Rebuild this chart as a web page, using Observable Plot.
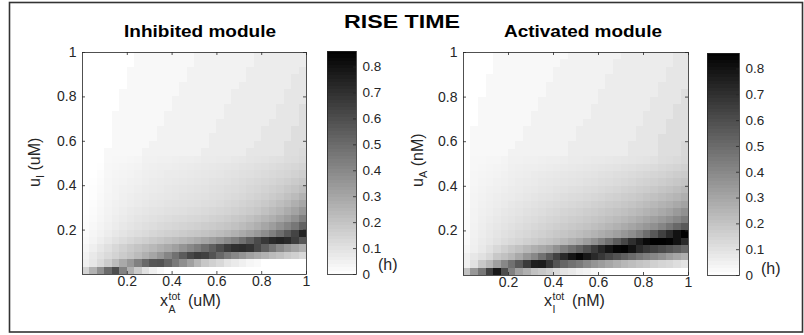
<!DOCTYPE html>
<html><head><meta charset="utf-8">
<script src="https://cdn.jsdelivr.net/npm/d3@7"></script>
<script src="https://cdn.jsdelivr.net/npm/@observablehq/plot@0.6"></script>
<style>
body{margin:0;background:#fff;}
#fig{position:relative;width:804px;height:335px;overflow:hidden;background:#fff;}
#fig svg{position:absolute;}
#fig svg.hm text{font-family:"Liberation Sans",Arial,Helvetica,sans-serif !important;font-size:14px !important;fill:#262626;}
#fig svg.cb text{font-family:"Liberation Sans",Arial,Helvetica,sans-serif !important;font-size:13.5px !important;fill:#262626;}
</style></head><body><div id="fig"></div>
<script>
const CMAX = 0.86;
const edges = [0,0.0333,0.0667,0.1,0.1333,0.1667,0.2,0.2333,0.2667,0.3,0.3333,0.3667,0.4,0.4333,0.4667,0.5,0.5333,0.5667,0.6,0.6333,0.6667,0.7,0.7333,0.7667,0.8,0.8333,0.8667,0.9,0.9333,0.9667,1];
const axisTicks = [0.2,0.4,0.6,0.8,1];
const barTicks = [0,0.1,0.2,0.3,0.4,0.5,0.6,0.7,0.8];

// Rise time (h), rows listed from top (u = 1) to bottom (u ≈ 0), columns left to right
const inhibited = [
[0,0,0,0,0,0,0,.024,.024,.024,.024,.024,.024,.024,.024,.044,.044,.044,.044,.044,.044,.044,.044,.064,.064,.064,.064,.064,.064,.064],
[0,0,0,0,0,0,0,.024,.024,.024,.024,.024,.024,.024,.024,.044,.044,.044,.044,.044,.044,.044,.044,.064,.064,.064,.064,.064,.064,.064],
[0,0,0,0,0,0,.024,.024,.024,.024,.024,.024,.024,.024,.044,.044,.044,.044,.044,.044,.044,.044,.064,.064,.064,.064,.064,.064,.064,.084],
[0,0,0,0,0,0,.024,.024,.024,.024,.024,.024,.024,.024,.044,.044,.044,.044,.044,.044,.044,.044,.064,.064,.064,.064,.064,.064,.084,.084],
[0,0,0,0,0,0,.024,.024,.024,.024,.024,.024,.024,.044,.044,.044,.044,.044,.044,.044,.044,.064,.064,.064,.064,.064,.064,.064,.084,.084],
[0,0,0,0,0,.024,.024,.024,.024,.024,.024,.024,.024,.044,.044,.044,.044,.044,.044,.044,.064,.064,.064,.064,.064,.064,.064,.084,.084,.084],
[0,0,0,0,0,.024,.024,.024,.024,.024,.024,.024,.044,.044,.044,.044,.044,.044,.044,.044,.064,.064,.064,.064,.064,.064,.064,.084,.084,.084],
[0,0,0,0,0,.024,.024,.024,.024,.024,.024,.024,.044,.044,.044,.044,.044,.044,.044,.064,.064,.064,.064,.064,.064,.064,.084,.084,.084,.11],
[0,0,0,0,.024,.024,.024,.024,.024,.024,.024,.044,.044,.044,.044,.044,.044,.044,.044,.064,.064,.064,.064,.064,.064,.064,.084,.084,.084,.11],
[0,0,0,0,.024,.024,.024,.024,.024,.024,.024,.044,.044,.044,.044,.044,.044,.044,.064,.064,.064,.064,.064,.064,.064,.084,.084,.084,.084,.11],
[0,0,0,0,.024,.024,.024,.024,.024,.024,.044,.044,.044,.044,.044,.044,.044,.044,.064,.064,.064,.064,.064,.064,.084,.084,.084,.084,.11,.11],
[0,0,0,0,.024,.024,.024,.024,.024,.024,.044,.044,.044,.044,.044,.044,.044,.064,.064,.064,.064,.064,.064,.064,.084,.084,.084,.084,.11,.11],
[0,0,0,0,.024,.024,.024,.024,.024,.044,.044,.044,.044,.044,.044,.044,.044,.064,.064,.064,.064,.064,.064,.084,.084,.084,.084,.11,.11,.11],
[0,0,0,.024,.024,.024,.024,.024,.044,.044,.044,.044,.044,.044,.044,.044,.064,.064,.064,.064,.064,.064,.084,.084,.084,.084,.084,.11,.11,.12],
[0,0,0,.024,.026,.028,.03,.034,.046,.048,.05,.052,.054,.056,.058,.06,.066,.068,.07,.072,.076,.08,.088,.092,.096,.1,.104,.114,.118,.128],
[0,0,.005,.026,.03,.033,.036,.04,.05,.053,.056,.059,.062,.065,.068,.071,.074,.077,.08,.084,.088,.093,.098,.103,.108,.114,.12,.127,.135,.145],
[0,0,.01,.028,.033,.038,.042,.046,.054,.058,.062,.066,.069,.072,.075,.078,.081,.085,.089,.093,.098,.103,.108,.114,.12,.127,.135,.143,.153,.165],
[0,.004,.013,.03,.036,.042,.047,.052,.058,.063,.067,.071,.075,.079,.082,.085,.089,.093,.097,.102,.107,.113,.12,.127,.135,.143,.152,.162,.175,.19],
[0,.006,.016,.032,.039,.046,.052,.057,.063,.068,.072,.076,.08,.084,.088,.091,.095,.1,.105,.11,.116,.123,.131,.139,.148,.158,.17,.185,.2,.22],
[0,.008,.019,.034,.042,.05,.057,.063,.068,.073,.078,.082,.086,.09,.094,.098,.102,.107,.112,.118,.125,.133,.142,.152,.163,.176,.19,.21,.23,.26],
[.002,.01,.022,.036,.046,.055,.062,.069,.075,.08,.085,.09,.094,.098,.102,.106,.11,.116,.122,.13,.138,.147,.158,.17,.183,.2,.22,.24,.27,.3],
[.004,.013,.026,.04,.051,.061,.07,.077,.084,.09,.095,.1,.105,.109,.113,.118,.124,.131,.138,.146,.155,.165,.177,.19,.21,.23,.25,.28,.31,.35],
[.006,.017,.031,.045,.057,.068,.078,.087,.095,.102,.108,.114,.12,.125,.13,.136,.143,.151,.16,.17,.181,.193,.21,.23,.25,.27,.3,.33,.37,.43],
[.009,.022,.037,.052,.065,.077,.088,.098,.107,.116,.124,.132,.139,.146,.152,.159,.167,.176,.186,.197,.21,.225,.245,.27,.3,.33,.37,.41,.46,.53],
[.013,.029,.045,.061,.076,.09,.103,.115,.126,.137,.147,.157,.166,.175,.184,.193,.203,.214,.227,.243,.263,.287,.315,.345,.38,.43,.49,.56,.63,.74],
[.02,.038,.058,.078,.097,.115,.132,.148,.163,.178,.193,.208,.223,.24,.258,.278,.3,.325,.355,.39,.43,.48,.54,.61,.67,.72,.74,.72,.65,.57],
[.03,.055,.08,.105,.13,.155,.178,.2,.22,.24,.265,.29,.32,.36,.4,.44,.49,.54,.6,.66,.7,.71,.69,.62,.54,.47,.4,.35,.31,.27],
[.045,.075,.1,.125,.15,.175,.2,.23,.265,.305,.35,.41,.48,.55,.62,.66,.64,.58,.51,.45,.4,.36,.32,.29,.26,.23,.21,.18,.16,.13],
[.05,.08,.12,.17,.23,.29,.35,.43,.51,.57,.58,.52,.45,.38,.32,.25,.19,.16,.13,.09,.07,.05,.03,.02,0,0,0,0,0,0],
[.15,.26,.37,.5,.6,.42,.27,.18,.1,.05,.02,0,0,0,0,0,0,0,0,0,0,0,0,0,0,0,0,0,0,0]
];

const activated = [
[0,0,0,0,.024,.024,.024,.024,.024,.024,.024,.024,.024,.024,.044,.044,.044,.044,.044,.044,.044,.064,.064,.064,.064,.064,.064,.064,.084,.084],
[0,0,0,0,.024,.024,.024,.024,.024,.024,.024,.024,.024,.044,.044,.044,.044,.044,.044,.044,.064,.064,.064,.064,.064,.064,.064,.064,.084,.084],
[0,0,0,0,.024,.024,.024,.024,.024,.024,.024,.024,.044,.044,.044,.044,.044,.044,.044,.044,.064,.064,.064,.064,.064,.064,.064,.084,.084,.084],
[0,0,0,.024,.024,.024,.024,.024,.024,.024,.024,.024,.044,.044,.044,.044,.044,.044,.044,.064,.064,.064,.064,.064,.064,.064,.064,.084,.084,.084],
[0,0,0,.024,.024,.024,.024,.024,.024,.024,.024,.044,.044,.044,.044,.044,.044,.044,.044,.064,.064,.064,.064,.064,.064,.064,.084,.084,.084,.084],
[0,0,0,.024,.024,.024,.024,.024,.024,.024,.024,.044,.044,.044,.044,.044,.044,.044,.064,.064,.064,.064,.064,.064,.064,.064,.084,.084,.084,.11],
[0,0,.024,.024,.024,.024,.024,.024,.024,.024,.044,.044,.044,.044,.044,.044,.044,.044,.064,.064,.064,.064,.064,.064,.064,.084,.084,.084,.084,.11],
[0,0,.024,.024,.024,.024,.024,.024,.024,.024,.044,.044,.044,.044,.044,.044,.044,.064,.064,.064,.064,.064,.064,.064,.064,.084,.084,.084,.11,.11],
[0,0,.024,.024,.024,.024,.024,.024,.024,.044,.044,.044,.044,.044,.044,.044,.044,.064,.064,.064,.064,.064,.064,.064,.084,.084,.084,.084,.11,.11],
[0,0,.024,.024,.024,.024,.024,.024,.024,.044,.044,.044,.044,.044,.044,.044,.064,.064,.064,.064,.064,.064,.064,.064,.084,.084,.084,.11,.11,.11],
[0,.024,.024,.024,.024,.024,.024,.024,.044,.044,.044,.044,.044,.044,.044,.064,.064,.064,.064,.064,.064,.064,.064,.084,.084,.084,.084,.11,.11,.11],
[0,.024,.024,.024,.024,.024,.024,.024,.044,.044,.044,.044,.044,.044,.044,.064,.064,.064,.064,.064,.064,.064,.064,.084,.084,.084,.11,.11,.11,.11],
[0,.024,.024,.024,.024,.024,.024,.044,.044,.044,.044,.044,.044,.044,.064,.064,.064,.064,.064,.064,.064,.064,.084,.084,.084,.084,.11,.11,.11,.13],
[0,.024,.024,.024,.024,.024,.044,.044,.044,.044,.044,.044,.044,.044,.064,.064,.064,.064,.064,.064,.064,.064,.084,.084,.084,.084,.11,.11,.11,.13],
[0,.026,.028,.03,.032,.036,.046,.048,.05,.052,.054,.056,.058,.06,.067,.069,.071,.073,.075,.078,.081,.084,.088,.092,.096,.1,.114,.118,.124,.135],
[0,.028,.031,.034,.037,.041,.05,.053,.056,.059,.062,.065,.068,.071,.074,.077,.08,.083,.087,.091,.095,.1,.105,.11,.116,.122,.13,.137,.145,.155],
[0,.03,.034,.038,.042,.046,.054,.058,.062,.066,.07,.074,.077,.08,.083,.087,.091,.095,.1,.105,.11,.116,.122,.128,.135,.142,.15,.158,.167,.177],
[.002,.032,.037,.042,.047,.051,.058,.063,.068,.072,.076,.08,.084,.088,.092,.096,.1,.105,.11,.116,.122,.129,.136,.144,.152,.16,.17,.18,.19,.2],
[.004,.034,.04,.046,.052,.057,.063,.068,.073,.078,.083,.088,.093,.098,.103,.108,.113,.119,.125,.132,.139,.147,.155,.164,.173,.183,.194,.206,.22,.235],
[.006,.036,.043,.05,.057,.063,.069,.075,.081,.087,.093,.099,.105,.111,.117,.123,.129,.136,.143,.151,.159,.168,.177,.187,.198,.21,.222,.236,.25,.27],
[.008,.038,.046,.054,.062,.069,.076,.083,.09,.097,.104,.111,.118,.125,.132,.139,.146,.154,.162,.171,.18,.19,.2,.212,.225,.24,.255,.27,.29,.31],
[.01,.04,.05,.059,.068,.076,.084,.092,.1,.108,.116,.124,.132,.14,.148,.156,.164,.173,.182,.192,.202,.213,.225,.24,.255,.27,.29,.31,.34,.37],
[.012,.042,.054,.064,.074,.083,.092,.101,.11,.119,.128,.137,.146,.155,.164,.173,.182,.192,.203,.215,.228,.243,.26,.28,.3,.32,.345,.37,.4,.44],
[.014,.045,.058,.07,.081,.091,.101,.111,.121,.131,.141,.151,.161,.171,.181,.192,.204,.217,.231,.246,.263,.282,.303,.326,.35,.375,.41,.46,.51,.56],
[.016,.048,.062,.075,.088,.1,.112,.124,.136,.148,.16,.172,.184,.196,.208,.222,.238,.256,.276,.298,.322,.35,.38,.43,.49,.56,.64,.72,.8,.86],
[.02,.05,.066,.082,.098,.113,.128,.143,.158,.173,.188,.203,.22,.24,.265,.295,.33,.37,.42,.48,.55,.62,.7,.77,.83,.86,.86,.85,.8,.72],
[.03,.055,.075,.1,.13,.16,.185,.21,.24,.27,.295,.32,.37,.43,.48,.53,.59,.66,.73,.79,.84,.85,.8,.72,.67,.64,.61,.58,.55,.51],
[.05,.08,.1,.13,.185,.21,.24,.29,.35,.4,.48,.56,.64,.72,.79,.84,.78,.72,.67,.62,.58,.54,.5,.46,.43,.4,.37,.33,.3,.27],
[.05,.1,.185,.24,.32,.4,.48,.56,.66,.76,.77,.68,.58,.52,.48,.45,.4,.36,.33,.3,.27,.24,.22,.2,.185,.16,.14,.13,.11,.09],
[.21,.35,.46,.64,.78,.6,.43,.32,.27,.21,.185,.16,.12,.09,.075,.05,.04,.025,.015,0,0,0,0,0,0,0,0,0,0,0]
];

const FONT = '"Liberation Sans", Arial, Helvetica, sans-serif';
const INK = "#262626";
const colorScale = {type: "linear", domain: [0, CMAX], range: ["#ffffff", "#000000"], interpolate: "rgb", clamp: true};
const fig = document.getElementById("fig");

function cellsOf(rows) {
  const out = [];
  const n = rows.length;
  rows.forEach((row, r) => {
    const j = n - 1 - r;
    row.forEach((v, i) => out.push({x1: edges[i], x2: edges[i + 1], y1: edges[j], y2: edges[j + 1], v}));
  });
  return out;
}

function place(svg, left, cls) {
  svg.classList.add(cls);
  svg.style.left = left + "px";
  svg.style.top = "0px";
  fig.appendChild(svg);
}

function heatmap(rows, L) {
  const fw = L.width - L.ml - L.mr, fh = L.height - L.mt - L.mb;
  const svg = Plot.plot({
    width: L.width, height: L.height,
    marginLeft: L.ml, marginRight: L.mr, marginTop: L.mt, marginBottom: L.mb,
    style: {fontFamily: FONT, fontSize: "14px", color: INK, background: "transparent", overflow: "visible"},
    x: {domain: [0, 1], ticks: axisTicks, tickSize: 0, tickPadding: 2, tickFormat: d => String(d), label: null},
    y: {domain: [0, 1], ticks: axisTicks, tickSize: 0, tickPadding: 6, tickFormat: d => String(d), label: null},
    color: colorScale,
    marks: [
      Plot.rect(cellsOf(rows), {x1: "x1", x2: "x2", y1: "y1", y2: "y2", fill: "v", shapeRendering: "crispEdges"}),
      Plot.ruleX(axisTicks, {x: d => d, insetTop: fh - 3, stroke: INK, strokeWidth: 0.8}),
      Plot.ruleX(axisTicks, {x: d => d, insetBottom: fh - 3, stroke: INK, strokeWidth: 0.8}),
      Plot.ruleY(axisTicks, {y: d => d, insetRight: fw - 3, stroke: INK, strokeWidth: 0.8}),
      Plot.ruleY(axisTicks, {y: d => d, insetLeft: fw - 3, stroke: INK, strokeWidth: 0.8}),
      Plot.frame({stroke: INK, strokeWidth: 0.8})
    ]
  });
  place(svg, L.left, "hm");
}

const levels = d3.range(64).map(k => ({y1: k * CMAX / 64, y2: (k + 1) * CMAX / 64, v: (k + 0.5) * CMAX / 64}));

function colorbar(L) {
  const fw = L.width - L.ml - L.mr;
  const svg = Plot.plot({
    width: L.width, height: L.height,
    marginLeft: L.ml, marginRight: L.mr, marginTop: L.mt, marginBottom: L.mb,
    style: {fontFamily: FONT, fontSize: "13.5px", color: INK, background: "transparent", overflow: "visible"},
    y: {domain: [0, CMAX], ticks: barTicks, tickSize: 0, tickPadding: 6, tickFormat: d => String(d), label: null, axis: "right"},
    color: colorScale,
    marks: [
      Plot.rect(levels, {y1: "y1", y2: "y2", fill: "v", shapeRendering: "crispEdges"}),
      Plot.ruleY(barTicks, {y: d => d, insetLeft: fw - 3, stroke: INK, strokeWidth: 0.8}),
      Plot.frame({stroke: INK, strokeWidth: 0.8})
    ]
  });
  place(svg, L.left, "cb");
}

heatmap(inhibited, {left: 0, width: 320, height: 335, ml: 82, mr: 14, mt: 52, mb: 61});
heatmap(activated, {left: 400, width: 300, height: 335, ml: 63, mr: 12, mt: 52, mb: 60});
colorbar({left: 300, width: 110, height: 335, ml: 27, mr: 54, mt: 51, mb: 61});
colorbar({left: 690, width: 114, height: 335, ml: 17, mr: 65, mt: 53, mb: 60});

// titles, axis labels, units, border
const ov = d3.create("svg").attr("width", 804).attr("height", 335)
  .style("left", "0px").style("top", "0px").style("pointer-events", "none")
  .attr("font-family", FONT).attr("fill", INK);
ov.append("rect").attr("x", 9.5).attr("y", 2.5).attr("width", 793).attr("height", 329.5)
  .attr("fill", "none").attr("stroke", "#333").attr("stroke-width", 1.6);
ov.append("text").attr("x", 402).attr("y", 28).attr("text-anchor", "middle")
  .attr("font-size", 19).attr("font-weight", "bold").attr("fill", "#000")
  .attr("textLength", 116).attr("lengthAdjust", "spacingAndGlyphs").text("RISE TIME");
ov.append("text").attr("x", 200).attr("y", 36.5).attr("text-anchor", "middle")
  .attr("font-size", 17).attr("font-weight", "bold").attr("fill", "#000")
  .attr("textLength", 152).attr("lengthAdjust", "spacingAndGlyphs").text("Inhibited module");
ov.append("text").attr("x", 583).attr("y", 36.5).attr("text-anchor", "middle")
  .attr("font-size", 17).attr("font-weight", "bold").attr("fill", "#000")
  .attr("textLength", 158).attr("lengthAdjust", "spacingAndGlyphs").text("Activated module");

function yLabel(bx, sub, unit) {
  const t = ov.append("text").attr("transform", `translate(${bx},187) rotate(-90)`).attr("font-size", 16);
  t.append("tspan").text("u");
  t.append("tspan").attr("dy", 4).attr("font-size", 11).text(sub);
  t.append("tspan").attr("dy", -4).text(" " + unit);
}
yLabel(40, "I", "(uM)");
yLabel(423, "A", "(nM)");

function xLabel(x0, sub, unit) {
  ov.append("text").attr("x", x0).attr("y", 306).attr("font-size", 16).text("x");
  ov.append("text").attr("x", x0 + 8.5).attr("y", 299.5).attr("font-size", 10.5).text("tot");
  ov.append("text").attr("x", x0 + 8.5).attr("y", 313).attr("font-size", 10.5).text(sub);
  ov.append("text").attr("x", x0 + 28).attr("y", 306).attr("font-size", 16).text(unit);
}
xLabel(160, "A", "(uM)");
xLabel(544, "I", "(nM)");

ov.append("text").attr("x", 378).attr("y", 270).attr("font-size", 16).text("(h)");
ov.append("text").attr("x", 761).attr("y", 274).attr("font-size", 16).text("(h)");
fig.appendChild(ov.node());
</script></body></html>
